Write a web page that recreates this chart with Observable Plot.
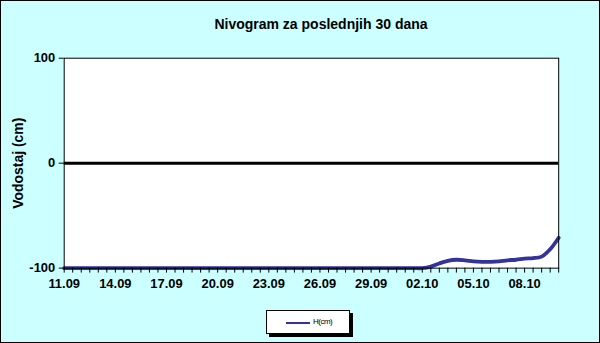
<!DOCTYPE html>
<html>
<head>
<meta charset="utf-8">
<script src="https://cdn.jsdelivr.net/npm/d3@7"></script>
<script src="https://cdn.jsdelivr.net/npm/@observablehq/plot@0.6"></script>
<style>
  html, body { margin: 0; padding: 0; }
  #wrap { position: relative; width: 600px; height: 343px; box-sizing: border-box; border: 1px solid #000; background: #CCFFFF; font-family: Arial, "Liberation Sans", sans-serif; overflow: hidden; }
  #title { position: absolute; top: 15px; left: 0; width: 640px; text-align: center; font-weight: bold; font-size: 14px; color: #000; }
  #chart { position: absolute; left: -1px; top: -1px; }
  #legend { position: absolute; left: 265px; top: 309px; width: 84px; height: 24px; box-sizing: border-box; border: 1px solid #000; background: #fff; box-shadow: 3px 3px 0 #000; }
  #legend .sw { position: absolute; left: 19px; top: 11px; width: 24px; height: 2px; background: #333399; }
  #legend .tx { position: absolute; left: 46px; top: 6px; font-size: 8px; letter-spacing: -0.5px; }
</style>
</head>
<body>
<div id="wrap">
  <div id="title">Nivogram za poslednjih 30 dana</div>
  <div id="chart"></div>
  <div id="legend"><div class="sw"></div><div class="tx">H(cm)</div></div>
</div>
<script>
// Tick labels shown every 6 readings (3 days, readings every 12 h)
const tickLabels = ["11.09","14.09","17.09","20.09","23.09","26.09","29.09","02.10","05.10","08.10"];
// Y axis ticks
const yTicks = [-100, 0, 100];
// Water level H(cm), one reading per 12 h, 11.09 .. 10.10
const values = [
  -100,-100,-100,-100,-100,-100,-100,-100,-100,-100,
  -100,-100,-100,-100,-100,-100,-100,-100,-100,-100,
  -100,-100,-100,-100,-100,-100,-100,-100,-100,-100,
  -100,-100,-100,-100,-100,-100,-100,-100,-100,-100,
  -100,-100,-100,-98.5,-95.5,-93,-92,-92.5,-93.5,-94,
  -94,-93.5,-92.5,-92,-91,-90.5,-89,-82,-71
];
const data = values.map((v, i) => ({i, v}));
const font = "Arial, 'Liberation Sans', sans-serif";

const chart = Plot.plot({
  width: 602,
  height: 345,
  marginLeft: 64,
  marginRight: 41,
  marginTop: 58,
  marginBottom: 76,
  style: {background: "transparent", fontFamily: font, fontSize: "13px", fontWeight: "bold", color: "#000"},
  x: {domain: [0, values.length - 1]},
  y: {domain: [-100, 100]},
  marks: [
    Plot.frame({fill: "white"}),
    Plot.ruleY([0], {stroke: "#000", strokeWidth: 3}),
    Plot.line(data, {x: "i", y: "v", stroke: "#333399", strokeWidth: 3.8, curve: "catmull-rom"}),
    Plot.frame({stroke: "#000", strokeWidth: 1}),
    Plot.axisY({ticks: yTicks, tickSize: 5, tickPadding: 4, fontSize: 13, fontWeight: "bold",
      tickFormat: d => String(d), label: null}),
    Plot.text(["Vodostaj (cm)"], {frameAnchor: "left", dx: -46, rotate: -90, fontSize: 14, fontWeight: "bold", textAnchor: "middle"}),
    Plot.axisX({ticks: d3.range(values.length), tickSize: 5, tickPadding: 6, fontSize: 13, fontWeight: "bold",
      tickFormat: i => i % 6 === 0 ? tickLabels[i / 6] : "", label: null})
  ]
});
document.getElementById("chart").appendChild(chart);
</script>
</body>
</html>
